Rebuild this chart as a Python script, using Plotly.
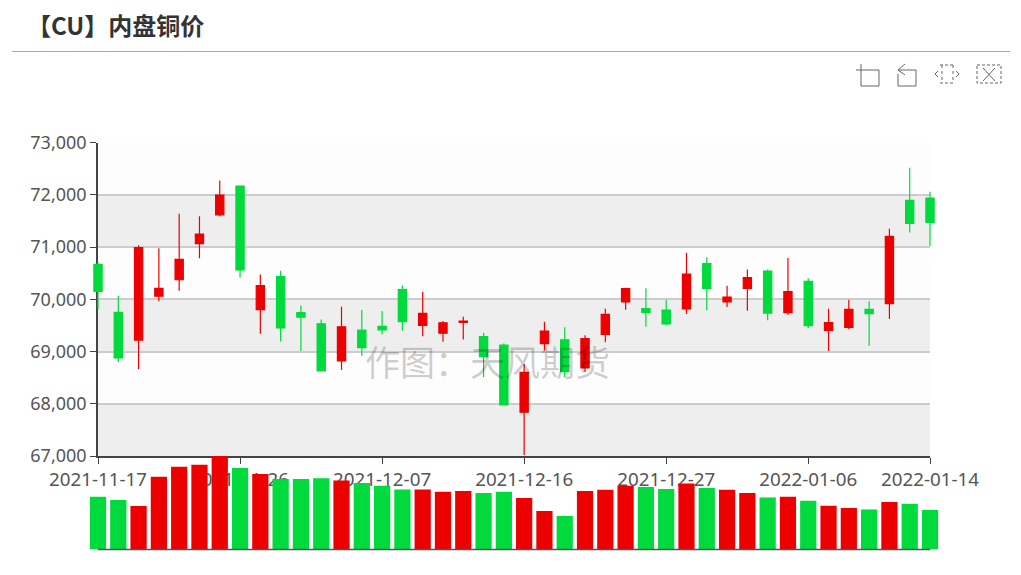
#!/usr/bin/env python3
"""
CU domestic copper price: daily candles with volume bars underneath
"""

import plotly.graph_objects as go

WIDTH = 1021
HEIGHT = 575

dates = [
    '2021-11-17', '2021-11-18', '2021-11-19', '2021-11-22', '2021-11-23', '2021-11-24',
    '2021-11-25', '2021-11-26', '2021-11-29', '2021-11-30', '2021-12-01', '2021-12-02',
    '2021-12-03', '2021-12-06', '2021-12-07', '2021-12-08', '2021-12-09', '2021-12-10',
    '2021-12-13', '2021-12-14', '2021-12-15', '2021-12-16', '2021-12-17', '2021-12-20',
    '2021-12-21', '2021-12-22', '2021-12-23', '2021-12-24', '2021-12-27', '2021-12-28',
    '2021-12-29', '2021-12-30', '2021-12-31', '2022-01-04', '2022-01-05', '2022-01-06',
    '2022-01-07', '2022-01-10', '2022-01-11', '2022-01-12', '2022-01-13', '2022-01-14',
]
opens = [
    70670, 69750, 69220, 70060, 70375, 71066, 71618, 72169, 69804, 70438, 69747, 69531,
    68820, 69410, 69481, 70186, 69500, 69353, 69558, 69288, 69122, 67840, 69154, 69224,
    68686, 69327, 69949, 69821, 69796, 69815, 70683, 69949, 70211, 70542, 69745, 70345,
    69407, 69464, 69809, 69917, 71895, 71940,
]
closes = [
    70150, 68880, 70990, 70210, 70768, 71250, 71998, 70565, 70261, 69455, 69658, 68628,
    69474, 69077, 69417, 69571, 69731, 69551, 69583, 68904, 67981, 68603, 69391, 68615,
    69250, 69712, 70205, 69750, 69528, 70485, 70211, 70045, 70415, 69738, 70147, 69496,
    69553, 69809, 69726, 71206, 71455, 71474,
]
highs = [
    70704, 70070, 71034, 70977, 71637, 71592, 72277, 72169, 70476, 70546, 69880, 69614,
    69859, 69795, 69776, 70263, 70147, 69583, 69667, 69359, 69154, 68763, 69571, 69468,
    69314, 69820, 70224, 70211, 69987, 70893, 70804, 70262, 70574, 70574, 70791, 70402,
    69821, 69994, 69962, 71353, 72520, 72061,
]
lows = [
    69817, 68800, 68665, 69962, 70166, 70787, 71592, 70419, 69341, 69195, 69010, 68628,
    68647, 68917, 69327, 69404, 69295, 69186, 69231, 68506, 67981, 67019, 69019, 68506,
    68609, 69179, 69801, 69474, 69509, 69719, 69789, 69853, 69783, 69598, 69707, 69451,
    69011, 69426, 69113, 69624, 71282, 71021,
]
volumes = [
    158, 148, 130, 218, 248, 254, 290, 244, 226, 211, 211, 213, 207, 199, 191, 180, 180,
    173, 175, 169, 173, 154, 115, 100, 175, 179, 191, 187, 181, 198, 184, 179, 169, 156,
    158, 146, 131, 124, 120, 142, 137, 118,
]
price_ticks = [67000, 68000, 69000, 70000, 71000, 72000, 73000]
date_ticks = ['2021-11-17', '2021-11-26', '2021-12-07', '2021-12-16', '2021-12-27', '2022-01-06', '2022-01-14']

UP = '#ec0000'
DOWN = '#00da3c'
AXIS = '#444444'
FONT = 'Noto Sans, Noto Sans CJK SC, sans-serif'


def px_x(x):
    return x / WIDTH


def px_y(y):
    return 1 - y / HEIGHT


def icon_line(points, dash='solid'):
    """One toolbox stroke, given in page pixels"""
    path = 'M' + ' L'.join(f'{px_x(x):.5f},{px_y(y):.5f}' for x, y in points)
    return dict(type='path', xref='paper', yref='paper', path=path,
                line=dict(color='#666666', width=1, dash=dash))


# pixel frame of the plot
left, right, top, mid, bottom = 98, 930, 142.7, 456, 549.5
step = (right - left) / (len(dates) - 1)
pad = 0.6  # candles on the first and last date hang over the frame
x_domain_wide = [px_x(left - pad * step), px_x(right + pad * step)]
x_range_wide = [-pad, len(dates) - 1 + pad]
price_domain = [px_y(mid), px_y(top)]
volume_domain = [px_y(bottom), px_y(mid)]

fig = go.Figure()

# candles
fig.add_trace(go.Candlestick(
    x=dates, open=opens, high=highs, low=lows, close=closes,
    xaxis='x2', yaxis='y2',
    increasing=dict(line=dict(color=UP, width=1.2), fillcolor=UP),
    decreasing=dict(line=dict(color=DOWN, width=1.2), fillcolor=DOWN),
    whiskerwidth=0,
    showlegend=False,
))

# volume
fig.add_trace(go.Bar(
    x=dates, y=volumes,
    xaxis='x3', yaxis='y3',
    marker=dict(color=[UP if c >= o else DOWN for o, c in zip(opens, closes)], line=dict(width=0)),
    showlegend=False,
))

# alternating bands behind the price grid
shapes = []
for i in range(len(price_ticks) - 1):
    shapes.append(dict(
        type='rect', xref='x', yref='y', layer='below',
        x0=0, x1=len(dates) - 1, y0=price_ticks[i], y1=price_ticks[i + 1],
        fillcolor='#eeeeee' if i % 2 == 0 else '#fdfdfd', line=dict(width=0),
    ))

# line under the volume bars
shapes.append(dict(
    type='line', xref='paper', yref='paper',
    x0=px_x(left), x1=px_x(right), y0=px_y(bottom), y1=px_y(bottom),
    line=dict(color='#555555', width=1.5),
))

# header rule
shapes.append(dict(
    type='line', xref='paper', yref='paper',
    x0=px_x(12), x1=px_x(1010), y0=px_y(51.5), y1=px_y(51.5),
    line=dict(color='#aaaaaa', width=1),
))

# toolbox icons: zoom, back, restore, save
shapes += [
    icon_line([(856, 70), (879, 70), (879, 86), (861, 86), (861, 64)]),
    icon_line([(898, 74), (898, 86), (916, 86), (916, 70), (898, 70)]),
    icon_line([(905, 64), (898, 70), (905, 75)]),
    icon_line([(940, 65), (953, 65)], dash='3px,2px'),
    icon_line([(940, 83), (953, 83)], dash='3px,2px'),
    icon_line([(942, 65), (942, 83)], dash='3px,3px'),
    icon_line([(953, 65), (953, 83)], dash='3px,3px'),
    icon_line([(938, 71), (935, 74), (938, 77)]),
    icon_line([(956, 71), (959, 74), (956, 77)]),
    icon_line([(977, 65), (1001, 65), (1001, 83), (977, 83), (977, 65)], dash='3px,2px'),
    icon_line([(983, 68), (995, 81)]),
    icon_line([(995, 68), (983, 81)]),
]

fig.update_layout(
    width=WIDTH, height=HEIGHT,
    margin=dict(l=0, r=0, t=0, b=0, autoexpand=False),
    paper_bgcolor='white',
    plot_bgcolor='rgba(0,0,0,0)',
    font=dict(family=FONT, size=18, color='#555555'),
    boxgap=0.42,
    bargap=0.2,
    shapes=shapes,
    # axes that are actually seen
    xaxis=dict(
        domain=[px_x(left), px_x(right)], range=[0, len(dates) - 1], anchor='y', automargin=False,
        tickmode='array',
        tickvals=[dates.index(d) for d in date_ticks], ticktext=date_ticks,
        tickfont=dict(size=18.8),
        ticks='outside', ticklen=6, tickwidth=1, tickcolor=AXIS, tickangle=0,
        showline=True, linecolor=AXIS, linewidth=1.5, showgrid=False, zeroline=False,
    ),
    yaxis=dict(
        domain=price_domain, range=[price_ticks[0], price_ticks[-1]], anchor='x', automargin=False,
        tickmode='array', tickvals=price_ticks, tickformat=',',
        ticks='outside', ticklen=6, tickwidth=1, tickcolor=AXIS,
        showline=True, linecolor=AXIS, linewidth=1.5,
        showgrid=True, gridcolor='#cccccc', gridwidth=1.5, zeroline=False,
    ),
    # wider, hidden axes so that edge marks are not clipped
    xaxis2=dict(domain=x_domain_wide, range=x_range_wide, type='category', anchor='y2',
                categoryorder='array', categoryarray=dates,
                visible=False, rangeslider=dict(visible=False)),
    yaxis2=dict(domain=price_domain, range=[price_ticks[0], price_ticks[-1]], anchor='x2', visible=False),
    xaxis3=dict(domain=x_domain_wide, range=x_range_wide, type='category', anchor='y3',
                categoryorder='array', categoryarray=dates, visible=False),
    yaxis3=dict(domain=volume_domain, range=[0, 280], anchor='x3', visible=False),
    annotations=[
        dict(text='<b>【CU】内盘铜价</b>', xref='paper', yref='paper',
             x=px_x(24.5), y=px_y(24.5), xanchor='left', yanchor='middle', showarrow=False,
             font=dict(size=24, color='#333333', family='Noto Sans CJK SC, Noto Sans, sans-serif')),
        dict(text='作图：天风期货', xref='paper', yref='paper',
             x=px_x(487.5), y=px_y(360), xanchor='center', yanchor='middle', showarrow=False,
             font=dict(size=35, color='rgba(0,0,0,0.2)', family='Noto Sans CJK SC, sans-serif')),
    ],
)

fig.write_html('out.html', config=dict(displayModeBar=False),
               post_script="document.body.style.margin='0';")
